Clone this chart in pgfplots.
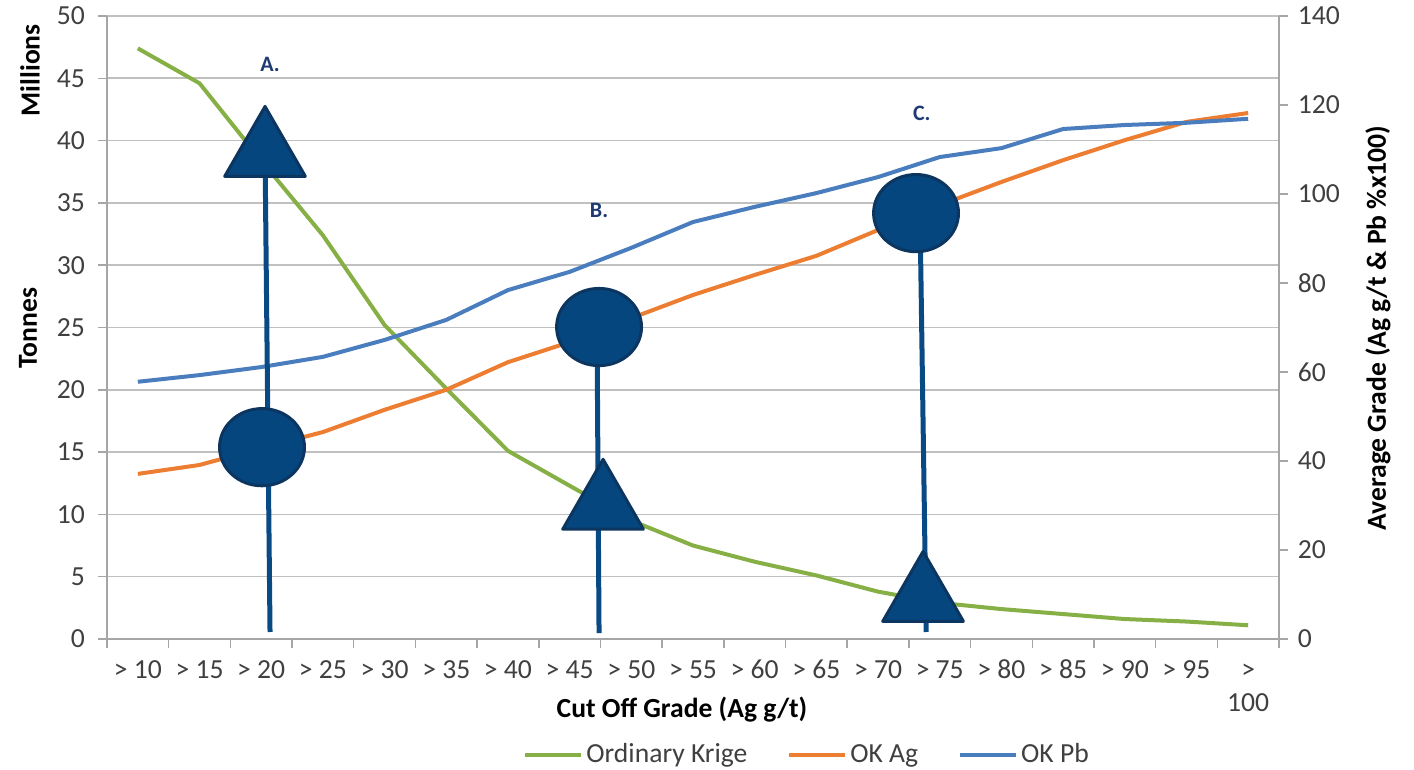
\documentclass[border=0pt]{standalone}
\usepackage{pgfplots}
\pgfplotsset{compat=1.18}
\usepackage{fontspec}
\setmainfont{Carlito}
\definecolor{cgreen}{HTML}{86B046}
\definecolor{corange}{HTML}{ED7D31}
\definecolor{cblue}{HTML}{4A7DBD}
\definecolor{gridgray}{HTML}{C0C0C0}
\definecolor{axgray}{HTML}{A6A6A6}
\definecolor{txtgray}{HTML}{404040}
\definecolor{navyline}{HTML}{0A4A84}
\definecolor{navyfill}{HTML}{05467F}
\definecolor{navyborder}{HTML}{0C355F}
\definecolor{navytext}{HTML}{1F3A73}
\newcommand{\fs}{\fontsize{13.8}{16.5}\selectfont}

\pgfplotstableread{
x krige
0 47.4
1 44.6
2 38.4
3 32.4
4 25.2
5 20.1
6 15.1
7 12.3
8 9.5
9 7.5
10 6.2
11 5.1
12 3.8
13 2.9
14 2.4
15 2.0
16 1.6
17 1.4
18 1.1
}\krige
\pgfplotstableread{
x ag pb
0 37.1 57.8
1 39.1 59.3
2 42.9 61.1
3 46.5 63.4
4 51.5 67.2
5 56.0 71.7
6 62.2 78.4
7 66.7 82.5
8 72.1 87.9
9 77.3 93.7
10 81.8 97.1
11 86.1 100.2
12 91.9 103.8
13 97.5 108.3
14 102.7 110.3
15 107.6 114.6
16 112.1 115.5
17 116.2 116.0
18 118.2 116.9
}\grade

\begin{document}
\begin{tikzpicture}
\pgfplotsset{
  common/.style={
    scale only axis, width=586pt, height=311.5pt,
    xmin=-0.5, xmax=18.5, clip=false,
    tick align=outside,
    major tick length=4.5pt, minor tick length=4.5pt,
    every tick/.style={axgray, line width=0.75pt},
    axis line style={axgray, line width=0.9pt},
    ticklabel style={font=\fs, text=txtgray},
    /pgf/number format/assume math mode=true,
  }
}
\begin{axis}[common,
  ymin=0, ymax=50,
  axis lines*=left,
  xtick={0,...,18},
  xticklabels={\strut> 10,\strut> 15,\strut> 20,\strut> 25,\strut> 30,\strut> 35,\strut> 40,\strut> 45,\strut> 50,\strut> 55,\strut> 60,\strut> 65,\strut> 70,\strut> 75,\strut> 80,\strut> 85,\strut> 90,\strut> 95,{\strut>\\100}},
  xticklabel style={align=center},
  major x tick style={draw=none},
  minor xtick={-0.5,0.5,...,18.5},
  ytick={0,5,...,50},
  yticklabel style={xshift=-3pt},
  ymajorgrids, grid style={gridgray, line width=0.8pt},
  xlabel={Cut Off Grade (Ag g/t)},
  xlabel style={at={(axis description cs:0.4906,-0.114)}, anchor=center, font=\fs\bfseries, text=black},
]
\addplot[cgreen, line width=2pt] table[x=x,y=krige]{\krige};
\node[rotate=90, font=\fs\bfseries] at (axis description cs:-0.0657,0.913) {Millions};
\node[rotate=90, font=\fs\bfseries] at (axis description cs:-0.0674,0.499) {Tonnes};
\path (rel axis cs:-0.0913,-0.2103) rectangle (rel axis cs:1.1152,1.0257);
\end{axis}

\begin{axis}[common,
  ymin=0, ymax=140,
  axis y line*=right, axis x line=none,
  ytick={0,20,...,140},
  yticklabel style={xshift=1.4pt},
  legend style={at={(axis description cs:0.355,-0.186)}, anchor=west, draw=none, fill=none, inner sep=0pt,
    font=\fs, text=txtgray, nodes={inner sep=0pt},
    /tikz/every odd column/.append style={column sep=1.5pt},
    /tikz/every even column/.append style={column sep=20pt}},
  legend columns=-1,
  legend image code/.code={\draw[#1] (0pt,0pt) -- (28pt,0pt);},
]
\node[rotate=90, font=\fs\bfseries] at (axis description cs:1.0845,0.499) {Average Grade (Ag g/t \& Pb \%x100)};
\addlegendimage{cgreen, line width=2pt}
\addlegendentry{Ordinary Krige}
\addplot[corange, line width=2pt] table[x=x,y=ag]{\grade};
\addlegendentry{OK Ag}
\addplot[cblue, line width=2pt] table[x=x,y=pb]{\grade};
\addlegendentry{OK Pb}
% annotations (right-axis units)
\addplot[forget plot, navyline, line width=2.5pt] coordinates {(2.062,109.2) (2.143,1.57)};
\addplot[forget plot, navyline, line width=2.5pt] coordinates {(7.444,70.1) (7.477,1.34)};
\addplot[forget plot, navyline, line width=2.5pt] coordinates {(12.68,95.7) (12.78,1.57)};
\addplot[forget plot, only marks, mark=triangle*, mark size=23.3pt,
  mark options={fill=navyfill, draw=navyborder, line width=1.5pt, line join=round}]
  coordinates {(2.062,109.2) (7.542,29.9) (12.73,9.2)};
\addplot[forget plot, only marks, mark=*, mark size=19.3pt,
  mark options={fill=navyfill, draw=navyborder, line width=1.5pt, xscale=1.1}]
  coordinates {(2.013,43.1) (7.477,70.1) (12.616,95.7)};
\node[font=\fontsize{11}{13}\selectfont\bfseries, text=navytext] at (axis cs:2.143,129.0) {A.};
\node[font=\fontsize{11}{13}\selectfont\bfseries, text=navytext] at (axis cs:7.477,96.2) {B.};
\node[font=\fontsize{11}{13}\selectfont\bfseries, text=navytext] at (axis cs:12.71,118.2) {C.};
\end{axis}
\end{tikzpicture}
\end{document}
